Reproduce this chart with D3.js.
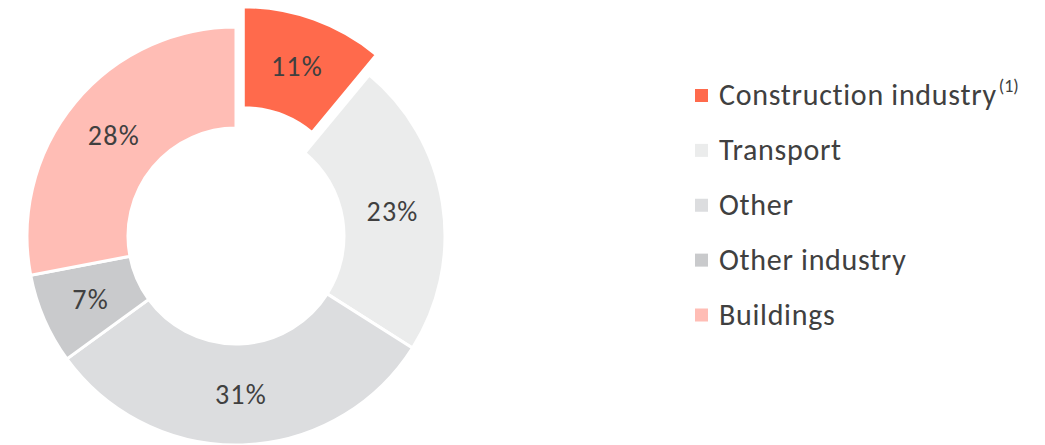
<!DOCTYPE html>
<html><head><meta charset="utf-8">
<script src="https://cdn.jsdelivr.net/npm/d3@7"></script>
<style>html,body{margin:0;padding:0;background:#fff;}svg{display:block;}</style>
</head><body>
<svg id="chart" width="1045" height="445"></svg>
<script>
const categories = ["Construction industry", "Transport", "Other", "Other industry", "Buildings"];
const values = [11, 23, 31, 7, 28];
const labels = ["11%", "23%", "31%", "7%", "28%"];
const superscripts = ["(1)", "", "", "", ""];
const colors = ["#FF6A4C", "#EBECEC", "#DCDDDF", "#C9CACC", "#FFBDB5"];
const exploded = [true, false, false, false, false];

const font = "Calibri, Carlito, Lato, 'Open Sans', sans-serif";
const svg = d3.select("#chart");
const cx = 236, cy = 236, rOuter = 209, rInner = 108, explode = 21.5;

const pie = d3.pie().sort(null).value(d => d)(values);
const arc = d3.arc().innerRadius(rInner).outerRadius(rOuter);
const g = svg.append("g").attr("transform", `translate(${cx},${cy})`);

const slices = g.selectAll("g.slice").data(pie).join("g").attr("class", "slice")
  .attr("transform", (d, i) => {
    if (!exploded[i]) return null;
    const a = (d.startAngle + d.endAngle) / 2;
    return `translate(${Math.sin(a) * explode},${-Math.cos(a) * explode})`;
  });
slices.append("path").attr("d", arc)
  .attr("fill", (d, i) => colors[i])
  .attr("stroke", "#fff").attr("stroke-width", 3).attr("stroke-linejoin", "miter");
slices.append("text")
  .attr("transform", d => `translate(${arc.centroid(d)})`)
  .attr("text-anchor", "middle").attr("dy", "0.35em")
  .attr("font-family", font).attr("font-size", 28).attr("letter-spacing", 1.2)
  .attr("fill", "#404040")
  .text((d, i) => labels[i]);

const legendY = d3.scalePoint().domain(categories).range([95.5, 315]);
const lg = svg.append("g");
const items = lg.selectAll("g").data(categories).join("g")
  .attr("transform", d => `translate(695,${legendY(d)})`);
items.append("rect").attr("x", 0).attr("y", -6.5).attr("width", 13).attr("height", 13)
  .attr("fill", (d, i) => colors[i]);
const txt = items.append("text").attr("x", 24).attr("y", 9.5)
  .attr("font-family", font).attr("font-size", 30).attr("letter-spacing", 0.7)
  .attr("fill", "#404040");
txt.append("tspan").text(d => d);
txt.append("tspan").attr("font-size", 18).attr("dy", -13).attr("dx", 2).attr("letter-spacing", 0)
  .text((d, i) => superscripts[i]);
</script>
</body></html>
